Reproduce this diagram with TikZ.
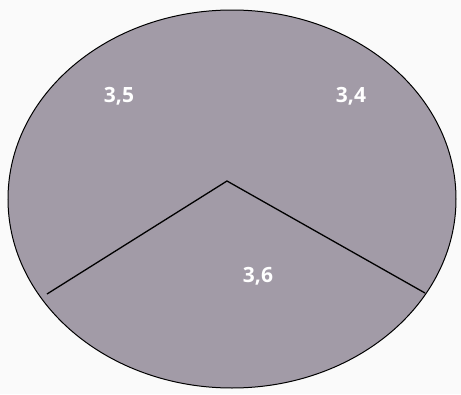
\documentclass[tikz,border=0pt]{standalone}
\usepackage{fontspec}
\setmainfont{Open Sans}
\definecolor{piefill}{RGB}{162,155,167}
\definecolor{bgc}{RGB}{250,250,250}
\tikzset{
  lbl/.style={text=white, font=\fontsize{21}{24}\selectfont\bfseries, inner sep=0pt},
  edge/.style={draw=black, line width=1.3pt}
}
\begin{document}
\begin{tikzpicture}[x=1pt,y=-1pt]
\fill[bgc] (0,0) rectangle (461,394);
\useasboundingbox (0,0) rectangle (461,394);
\draw[fill=piefill, line width=1pt] (232,199) ellipse [x radius=224, y radius=189];
\coordinate (apex) at (227,181);
\coordinate (lend) at (47,294);
\coordinate (rend) at (425,293);
\draw[edge] (lend) -- (apex) -- (rend);
\node[lbl] (a) at (119,96) {3,5};
\node[lbl] (b) at (351,96) {3,4};
\node[lbl] (c) at (258,276) {3,6};
\end{tikzpicture}
\end{document}
